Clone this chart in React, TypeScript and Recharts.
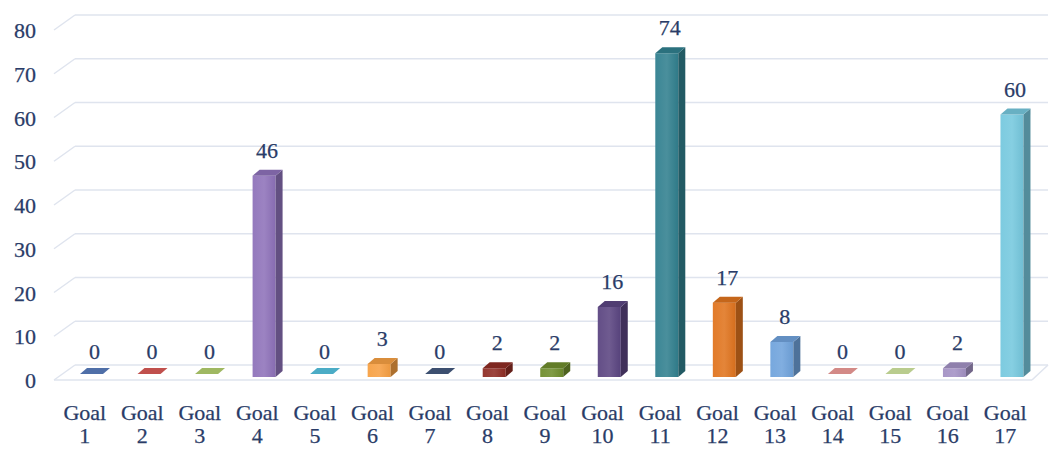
import { BarChart, Bar, XAxis, YAxis, CartesianGrid, LabelList } from "recharts";

const goals = [
  "Goal 1", "Goal 2", "Goal 3", "Goal 4", "Goal 5", "Goal 6", "Goal 7", "Goal 8", "Goal 9",
  "Goal 10", "Goal 11", "Goal 12", "Goal 13", "Goal 14", "Goal 15", "Goal 16", "Goal 17",
];
const counts = [0, 0, 0, 46, 0, 3, 0, 2, 2, 16, 74, 17, 8, 0, 0, 2, 60];
const barColors = [
  "#4f6fa8", "#c0504d", "#9fb862", "#8e72ba", "#4bacc6", "#f7a043", "#3c4f70", "#8f2c24", "#6f8d2d",
  "#5b4581", "#31808f", "#e0741e", "#70a3dc", "#d38a87", "#b9cc8e", "#a391c4", "#76c8de",
];
const yTicks = [0, 10, 20, 30, 40, 50, 60, 70, 80];

const data = goals.map((g, i) => ({ goal: g, count: counts[i] }));

const W = 1055;
const H = 452;
const X_AXIS_H = 30;
const M = { top: 27, right: 21, bottom: 75 - X_AXIS_H, left: 0 };
const FLOOR_Y = H - 75;
const TEXT = "#2a3c68";
const FONT = "Liberation Serif, DejaVu Serif, serif";
const FONT_SIZE = 22;

// depth of the wall/floor and of each bar
const WALL_DX = 19;
const WALL_DY = -12;
const BAR_SHIFT = 7;
const BAR_DX = 7;
const BAR_DY = -6;

function shade(hex: string, f: number) {
  const n = parseInt(hex.slice(1), 16);
  const ch = [(n >> 16) & 255, (n >> 8) & 255, n & 255].map((c) =>
    Math.round(f >= 0 ? c + (255 - c) * f : c * (1 + f))
  );
  return `rgb(${ch[0]},${ch[1]},${ch[2]})`;
}

function Bar3D(props: any) {
  const { x, y, width, height, index } = props;
  const c = barColors[index];
  const x0 = x + BAR_SHIFT;
  const w = width;
  if (!height || height < 1) {
    const yy = FLOOR_Y - 3;
    return (
      <polygon
        points={`${x0},${yy} ${x0 + w},${yy} ${x0 + w + BAR_DX},${yy + BAR_DY} ${x0 + BAR_DX},${yy + BAR_DY}`}
        fill={c}
      />
    );
  }
  const gid = `g${index}`;
  return (
    <g>
      <defs>
        <linearGradient id={gid} x1="0" y1="0" x2="1" y2="0">
          <stop offset="0" stopColor={shade(c, 0.05)} />
          <stop offset="0.5" stopColor={shade(c, 0.12)} />
          <stop offset="1" stopColor={shade(c, -0.05)} />
        </linearGradient>
      </defs>
      <rect x={x0} y={y} width={w} height={height} fill={`url(#${gid})`} />
      <polygon
        points={`${x0 + w},${y} ${x0 + w + BAR_DX},${y + BAR_DY} ${x0 + w + BAR_DX},${y + height + BAR_DY} ${x0 + w},${y + height}`}
        fill={shade(c, -0.3)}
      />
      <polygon
        points={`${x0},${y} ${x0 + w},${y} ${x0 + w + BAR_DX},${y + BAR_DY} ${x0 + BAR_DX},${y + BAR_DY}`}
        fill={shade(c, -0.12)}
      />
    </g>
  );
}

function gridLine(p: any) {
  const stroke = "#dfe4ee";
  const y = p.y1;
  const isFloor = Math.abs(y - FLOOR_Y) < 1;
  return (
    <g key={p.key}>
      <line x1={p.x1 - 2} y1={y + 3} x2={p.x1 + WALL_DX} y2={y + WALL_DY} stroke={stroke} strokeWidth={1.5} />
      <line x1={p.x1 + WALL_DX} y1={y + WALL_DY} x2={p.x2 + 14} y2={y + WALL_DY} stroke={stroke} strokeWidth={1.5} />
      {isFloor && (
        <>
          <line x1={p.x1 - 2} y1={y + 3} x2={p.x2 - 2} y2={y + 3} stroke={stroke} strokeWidth={1.5} />
          <line x1={p.x2 - 2} y1={y + 3} x2={p.x2 + 14} y2={y + WALL_DY} stroke={stroke} strokeWidth={1.5} />
        </>
      )}
    </g>
  );
}

const textStyle = {
  fill: TEXT,
  stroke: TEXT,
  strokeWidth: 0.25,
  fontSize: FONT_SIZE,
  fontFamily: FONT,
};

function GoalTick(props: any) {
  const { x, payload } = props;
  const [word, num] = String(payload.value).split(" ");
  return (
    <g>
      <text x={x} y={420} textAnchor="middle" style={textStyle}>
        {word}
      </text>
      <text x={x} y={443} textAnchor="middle" style={textStyle}>
        {num}
      </text>
    </g>
  );
}

function ValueTick(props: any) {
  const { y, payload } = props;
  return (
    <text x={36} y={y + 11} textAnchor="end" style={textStyle}>
      {payload.value}
    </text>
  );
}

function ValueLabel(props: any) {
  const { x, y, width, value } = props;
  return (
    <text x={x + BAR_SHIFT + width / 2 + 3} y={y - 18} textAnchor="middle" style={textStyle}>
      {value}
    </text>
  );
}

export default function App() {
  return (
    <div
      style={{
        position: "absolute",
        left: 0,
        top: 0,
        width: W,
        height: H,
        background: "#fff",
        fontFamily: FONT,
      }}
    >
      <BarChart width={W} height={H} data={data} margin={M}>
        <CartesianGrid vertical={false} horizontal={gridLine} />
        <XAxis
          dataKey="goal"
          height={X_AXIS_H}
          interval={0}
          axisLine={false}
          tickLine={false}
          tick={<GoalTick />}
        />
        <YAxis
          width={56}
          domain={[0, 80]}
          ticks={yTicks}
          axisLine={false}
          tickLine={false}
          tickSize={0}
          tick={<ValueTick />}
        />
        <Bar dataKey="count" barSize={23} shape={<Bar3D />} isAnimationActive={false}>
          <LabelList dataKey="count" content={<ValueLabel />} />
        </Bar>
      </BarChart>
    </div>
  );
}
